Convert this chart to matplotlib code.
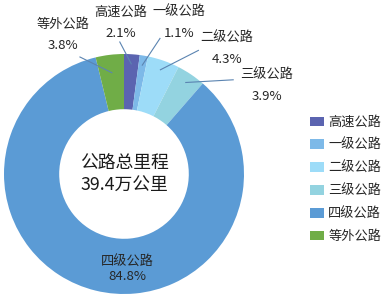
import numpy as np
import matplotlib
matplotlib.use("Agg")
import matplotlib.pyplot as plt
from matplotlib.patches import Patch

plt.rcParams["font.family"] = ["Noto Sans CJK SC", "DejaVu Sans"]

# road network share by grade
categories = ["高速公路", "一级公路", "二级公路", "三级公路", "四级公路", "等外公路"]
shares = [2.1, 1.1, 4.3, 3.9, 84.8, 3.8]
colors = ["#5B64B0", "#7DB9E8", "#9DDCF8", "#93D3E0", "#5B9BD5", "#70AD47"]
center_lines = ["公路总里程", "39.4万公里"]

# label block centre and leader start, in pie units (None = no leader)
label_pos = {
    "高速公路": ((-0.025, 1.262), (-0.035, 1.10)),
    "一级公路": ((0.458, 1.262), (0.30, 1.13)),
    "二级公路": ((0.858, 1.042), (0.62, 1.03)),
    "三级公路": ((1.19, 0.733), (0.91, 0.785)),
    "四级公路": ((0.025, -0.795), None),
    "等外公路": ((-0.508, 1.158), (-0.367, 0.975)),
}

W, H = 387, 295
fig = plt.figure(figsize=(W / 100, H / 100), dpi=100)
cx, cy, r_px = 124, 174, 120
ax = fig.add_axes([(cx - r_px) / W, (H - cy - r_px) / H, 2 * r_px / W, 2 * r_px / H])

wedges, _ = ax.pie(
    shares,
    colors=colors,
    startangle=90,
    counterclock=False,
    radius=1.0,
    wedgeprops=dict(width=0.46, linewidth=0),
)
ax.set_xlim(-1, 1)
ax.set_ylim(-1, 1)
ax.set_aspect("equal")
ax.axis("off")

text_color = "#262626"
line_color = "#5B84B1"
for wedge, name, share in zip(wedges, categories, shares):
    (tx, ty), start = label_pos[name]
    spacing = 1.1 if start is None else 1.85
    ax.text(tx, ty, f"{name}\n{share}%", ha="center", va="center",
            fontsize=9.5, color=text_color, linespacing=spacing, clip_on=False)
    if start is not None:
        mid = np.deg2rad((wedge.theta1 + wedge.theta2) / 2)
        rr = 0.85 if name == "等外公路" else 0.92
        end = (rr * np.cos(mid), rr * np.sin(mid))
        ax.plot([start[0], end[0]], [start[1], end[1]], color=line_color,
                linewidth=0.8, clip_on=False)

ax.text(0, 0, "\n".join(center_lines), ha="center", va="center",
        fontsize=12.8, color="#1a1a1a", linespacing=1.35)

handles = [Patch(facecolor=c, edgecolor="none") for c in colors]
fig.legend(handles, categories, loc="center left", bbox_to_anchor=(0.802, 0.391),
           frameon=False, fontsize=9.5, handlelength=1.0, handleheight=0.75,
           handletextpad=0.35, labelspacing=0.74, borderpad=0, borderaxespad=0,
           labelcolor=text_color)

fig.savefig("out.png", dpi=100)
